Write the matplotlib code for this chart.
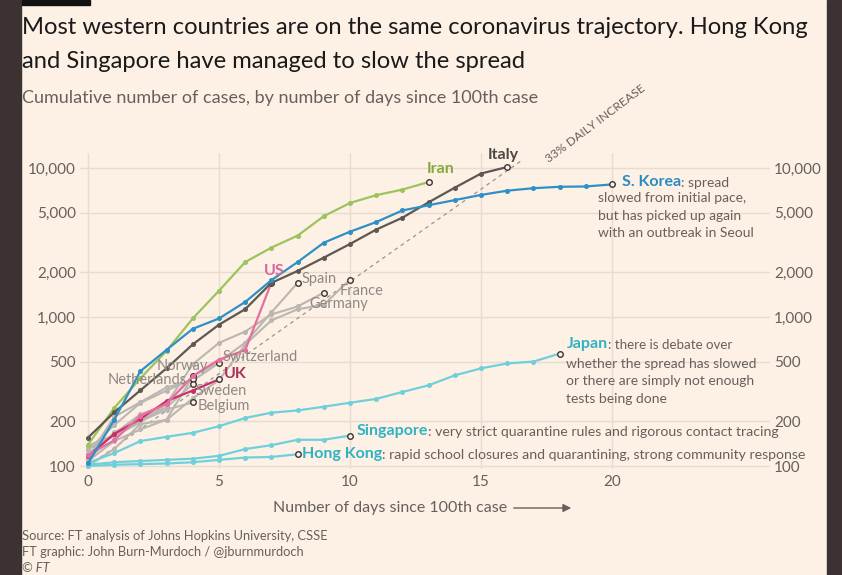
import numpy as np
import matplotlib.pyplot as plt
from matplotlib.patches import Rectangle

plt.rcParams['font.family'] = ['Lato', 'DejaVu Sans']

BG = '#fdf1e6'
TXT = '#66605c'
GRID = '#e8dcd1'

# cumulative cases, one value per day since 100th case
italy = [155, 229, 322, 453, 655, 888, 1128, 1694, 2036, 2502, 3089, 3858, 4636, 5883, 7375, 9172, 10149]
iran = [139, 245, 388, 593, 978, 1501, 2336, 2922, 3513, 4747, 5823, 6566, 7161, 8042]
korea = [104, 204, 433, 602, 833, 977, 1261, 1766, 2337, 3150, 3736, 4335, 5186, 5621, 6088,
         6593, 7041, 7314, 7478, 7513, 7755]
us = [118, 149, 217, 262, 402, 518, 600, 1700]
uk = [116, 164, 207, 273, 321, 382]
spain = [120, 165, 222, 259, 400, 500, 673, 1073, 1695]
france = [100, 130, 191, 204, 285, 377, 653, 949, 1126, 1209, 1784]
germany = [130, 159, 196, 262, 482, 670, 799, 1040, 1176, 1457]
switzerland = [114, 214, 268, 337, 374, 491]
norway = [108, 147, 176, 205, 400]
netherlands = [128, 188, 265, 321, 382]
sweden = [137, 161, 203, 248, 355]
belgium = [109, 169, 200, 239, 267]
japan = [105, 122, 147, 157, 167, 185, 210, 228, 236, 250, 266, 282, 314, 348, 406, 452, 488, 502, 568]
singapore = [102, 106, 108, 110, 112, 117, 130, 138, 150, 150, 160]
hong_kong = [100, 102, 103, 104, 106, 110, 114, 115, 120]

yticks = [100, 200, 500, 1000, 2000, 5000, 10000]
ytick_labels = ['100', '200', '500', '1,000', '2,000', '5,000', '10,000']
xticks = [0, 5, 10, 15, 20]
daily_rate = 1.33

fig = plt.figure(figsize=(8.42, 5.75), dpi=100, facecolor=BG)
ax = fig.add_axes([80 / 842, (575 - 469) / 575, 690 / 842, 316 / 575])
ax.set_facecolor(BG)
ax.set_yscale('log')
ax.set_xlim(-0.305, 26.03)
ax.set_ylim(95.5, 12600)
for s in ax.spines.values():
    s.set_visible(False)

for v in yticks:
    ax.axhline(v, color=GRID, lw=1, zorder=0)
for d in xticks:
    ax.axvline(d, color=GRID, lw=1, zorder=0)

ax.set_yticks(yticks)
ax.set_yticklabels(ytick_labels)
ax.yaxis.set_minor_locator(plt.NullLocator())
ax.set_xticks(xticks)
ax.tick_params(axis='both', length=0, labelsize=11, labelcolor=TXT)
ax.tick_params(axis='y', labelright=True, pad=3)
ax.tick_params(axis='x', pad=4)

# 33% daily increase guide
gx = np.linspace(0, 16.5, 50)
ax.plot(gx, 100 * daily_rate ** gx, ls=(0, (3, 3)), color='#9a948f', lw=0.9, zorder=1)
ax.text(19.35, 100 * daily_rate ** 19.35 * 0.8, '33% DAILY INCREASE', fontsize=8.7, color=TXT,
        rotation=37, rotation_mode='anchor', ha='center', va='center')


def draw(vals, color, lw=1.6, z=2, end=True):
    d = np.arange(len(vals))
    ax.plot(d, vals, color=color, lw=lw, marker='o', ms=2.6, zorder=z)
    if end:
        ax.plot(d[-1], vals[-1], 'o', ms=4, mfc=BG, mec='#3a3532', mew=1, zorder=z + 0.5)
    return d[-1], vals[-1]


def label(pt, name, color, dx, dy, ha='left', weight='normal', size=10.5, rest=None, rest_size=10):
    t = ax.annotate(name, pt, xytext=(dx, dy), textcoords='offset pixels', color=color,
                    fontsize=size, fontweight=weight, ha=ha, va='center', zorder=10)
    if rest:
        ax.annotate(rest, xy=(1, 0), xycoords=t, color=TXT, fontsize=rest_size,
                    ha='left', va='bottom', zorder=10)
    return t


GREY = '#bcb6b1'
GREY_TXT = '#8f8984'
CYAN = '#6fd0dc'
grey_series = [spain, france, germany, switzerland, norway, netherlands, sweden, belgium]
grey_ends = [draw(s, GREY, lw=1.5, z=2) for s in grey_series]
jp = draw(japan, CYAN, z=2)
sg = draw(singapore, CYAN, z=2)
hk = draw(hong_kong, CYAN, z=2)
uk_end = draw(uk, '#c8306a', z=3)
us_end = draw(us, '#e76f9f', z=3)
ir = draw(iran, '#9cc45c', z=3)
it = draw(italy, '#5e5854', z=4)
kr = draw(korea, '#2f90c6', z=4)

label(ir, 'Iran', '#86a83a', 12, 13, ha='center', weight='bold', size=11.5)
label(it, 'Italy', '#4d4845', -4, 12, ha='center', weight='bold', size=11.5)
label(kr, 'S. Korea', '#2a8bc2', 10, 2, weight='bold', size=11.5, rest=': spread')
ax.annotate('slowed from initial pace,\nbut has picked up again\nwith an outbreak in Seoul', kr,
            xytext=(-14, -8), textcoords='offset pixels', color=TXT, fontsize=10,
            ha='left', va='top', linespacing=1.55)
label(us_end, 'US', '#d8689a', 3, 12, ha='center', weight='bold', size=11.5)
label(grey_ends[0], 'Spain', GREY_TXT, 4, 4)
label(grey_ends[1], 'France', GREY_TXT, -10, -11)
label(grey_ends[2], 'Germany', GREY_TXT, -14, -11)
label(grey_ends[3], 'Switzerland', GREY_TXT, 4, 6)
label(grey_ends[4], 'Norway', GREY_TXT, 15, 10, ha='right')
label(grey_ends[5], 'Netherlands', GREY_TXT, -6, -1, ha='right')
label(grey_ends[6], 'Sweden', GREY_TXT, 3, -7)
label(grey_ends[7], 'Belgium', GREY_TXT, 5, -4)
label(uk_end, 'UK', '#a8305d', 5, 5, weight='bold', size=11.5)
label(jp, 'Japan', '#2fb2c2', 7, 10, weight='bold', size=11.5, rest=': there is debate over',
      rest_size=9.6)
ax.annotate('whether the spread has slowed\nor there are simply not enough\ntests being done', jp,
            xytext=(6, -4), textcoords='offset pixels', color=TXT, fontsize=10,
            ha='left', va='top', linespacing=1.55)
label(sg, 'Singapore', '#2fb2c2', 7, 5, weight='bold', size=11.5,
      rest=': very strict quarantine rules and rigorous contact tracing', rest_size=10.2)
label(hk, 'Hong Kong', '#2fb2c2', 4, 0, weight='bold', size=11.5,
      rest=': rapid school closures and quarantining, strong community response', rest_size=10.2)

# titles and footer
fig.text(22 / 842, 1 - 28 / 575, 'Most western countries are on the same coronavirus trajectory. Hong Kong',
         fontsize=17.1, color='#1a1a1a', va='center')
fig.text(22 / 842, 1 - 62 / 575, 'and Singapore have managed to slow the spread',
         fontsize=17.1, color='#1a1a1a', va='center')
fig.text(22 / 842, 1 - 98 / 575, 'Cumulative number of cases, by number of days since 100th case',
         fontsize=13, color=TXT, va='center')
fig.text(390 / 842, 1 - 508 / 575, 'Number of days since 100th case', fontsize=11.5,
         color=TXT, ha='center', va='center')
ax.annotate('', xy=(574, 67), xytext=(511, 67), xycoords='figure pixels',
            arrowprops=dict(arrowstyle='-|>', color=TXT, lw=1, mutation_scale=12))
fig.text(22 / 842, 1 - 536 / 575, 'Source: FT analysis of Johns Hopkins University, CSSE',
         fontsize=9.3, color=TXT, va='center')
fig.text(22 / 842, 1 - 552 / 575, 'FT graphic: John Burn-Murdoch / @jburnmurdoch',
         fontsize=9.3, color=TXT, va='center')
fig.text(22 / 842, 1 - 568 / 575, '© FT', fontsize=9.3, color=TXT, va='center', style='italic')

# dark frame from the screenshot
fig.patches.append(Rectangle((0, 0), 21 / 842, 1, transform=fig.transFigure,
                             color='#3b3231', zorder=-1))
fig.patches.append(Rectangle((827 / 842, 0), 15 / 842, 1, transform=fig.transFigure,
                             color='#3b3231', zorder=-1))
fig.patches.append(Rectangle((22 / 842, 1 - 5 / 575), 68 / 842, 5 / 575, transform=fig.transFigure,
                             color='#111111', zorder=-1))

fig.savefig('out.png', dpi=100, facecolor=BG)
